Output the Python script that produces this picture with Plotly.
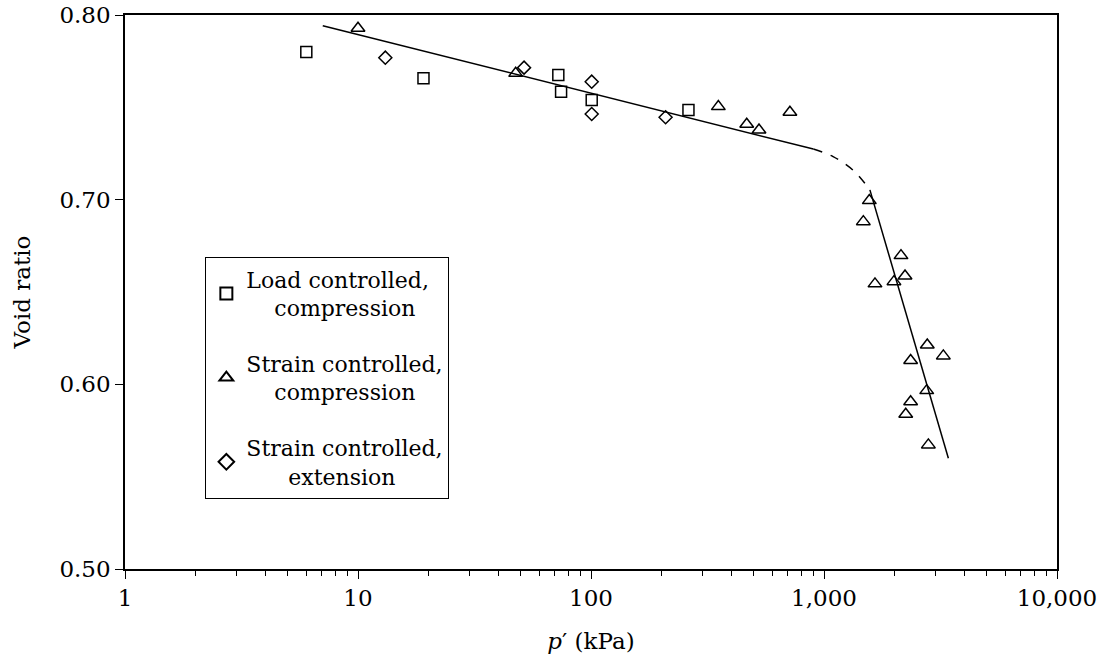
import plotly.graph_objects as go

# Load controlled, compression
load_p = [6.0, 19.1, 72.4, 74.4, 100.7, 262]
load_e = [0.780, 0.7657, 0.7675, 0.7585, 0.754, 0.7486]

# Strain controlled, compression
sc_p = [10.0, 47.5, 352, 466, 526, 714, 1565, 1475, 2140, 2227, 1996, 1655,
        2775, 3252, 2354, 2760, 2354, 2243, 2805]
sc_e = [0.7928, 0.7684, 0.7504, 0.7408, 0.7377, 0.7473, 0.6995, 0.6881, 0.6697,
        0.6587, 0.6556, 0.6544, 0.6213, 0.6154, 0.6129, 0.5966, 0.5906, 0.5838, 0.5672]

# Strain controlled, extension
se_p = [13.1, 51.6, 100.7, 100.7, 209]
se_e = [0.7769, 0.7715, 0.7639, 0.7464, 0.7446]

# Trend lines
line1_p = [7.06, 900]
line1_e = [0.7942, 0.7274]
dash_p = [900, 1094, 1332, 1574]
dash_e = [0.7274, 0.7233, 0.716, 0.7053]
line2_p = [1574, 3418]
line2_e = [0.7053, 0.560]

xtick_vals = [1, 10, 100, 1000, 10000]
xtick_text = ["1", "10", "100", "1,000", "10,000"]
ytick_vals = [0.50, 0.60, 0.70, 0.80]
minor_vals = [m * 10 ** d for d in range(4) for m in range(2, 10)]

FONT = "DejaVu Serif"
NB = "\u00a0"
FS = 23

fig = go.Figure()
fig.add_trace(go.Scatter(x=line1_p, y=line1_e, mode="lines",
                         line=dict(color="black", width=1.5), showlegend=False))
fig.add_trace(go.Scatter(x=dash_p, y=dash_e, mode="lines",
                         line=dict(color="black", width=1.5, dash="dash", shape="spline"),
                         showlegend=False))
fig.add_trace(go.Scatter(x=line2_p, y=line2_e, mode="lines",
                         line=dict(color="black", width=1.5), showlegend=False))

fig.add_trace(go.Scatter(x=load_p, y=load_e, mode="markers", legendgroup="a",
                         name="Load controlled,<br>" + NB * 4 + "compression",
                         marker=dict(symbol="square-open", size=11, color="black",
                                     line=dict(width=1.5))))
fig.add_trace(go.Scatter(x=sc_p, y=sc_e, mode="markers", legendgroup="b",
                         name="Strain controlled,<br>" + NB * 4 + "compression",
                         marker=dict(symbol="triangle-up-open", size=12, color="black",
                                     line=dict(width=1.5))))
fig.add_trace(go.Scatter(x=se_p, y=se_e, mode="markers", legendgroup="c",
                         name="Strain controlled,<br>" + NB * 6 + "extension",
                         marker=dict(symbol="diamond-open", size=10, color="black",
                                     line=dict(width=1.5))))

fig.update_layout(
    width=1110, height=663,
    margin=dict(l=125, r=53, t=15, b=94),
    paper_bgcolor="white", plot_bgcolor="white",
    font=dict(family=FONT, size=FS, color="black"),
    legend=dict(x=0.086, y=0.563, xanchor="left", yanchor="top",
                bordercolor="black", borderwidth=1.2, bgcolor="white",
                font=dict(family=FONT, size=22, color="black"),
                tracegroupgap=24, itemsizing="constant", itemwidth=30),
)
fig.update_xaxes(
    type="log", range=[0, 4], automargin=False,
    tickvals=xtick_vals, ticktext=xtick_text,
    ticks="outside", ticklen=8, tickwidth=1.4, tickcolor="black",
    minor=dict(tickvals=minor_vals, ticks="outside", ticklen=5, tickwidth=1.2,
               tickcolor="black", showgrid=False),
    showline=True, linecolor="black", linewidth=1.5, mirror=True,
    showgrid=False, zeroline=False,
    title=dict(text="<i>p</i>′ (kPa)", font=dict(family=FONT, size=FS), standoff=23),
    tickfont=dict(family=FONT, size=FS),
)
fig.update_yaxes(
    range=[0.50, 0.80], automargin=False,
    tickvals=ytick_vals, tickformat=".2f",
    ticks="outside", ticklen=8, tickwidth=1.4, tickcolor="black",
    showline=True, linecolor="black", linewidth=1.5, mirror=True,
    showgrid=False, zeroline=False,
    title=dict(text="Void ratio", font=dict(family=FONT, size=FS), standoff=22),
    tickfont=dict(family=FONT, size=FS),
)

fig.write_html("out.html")
